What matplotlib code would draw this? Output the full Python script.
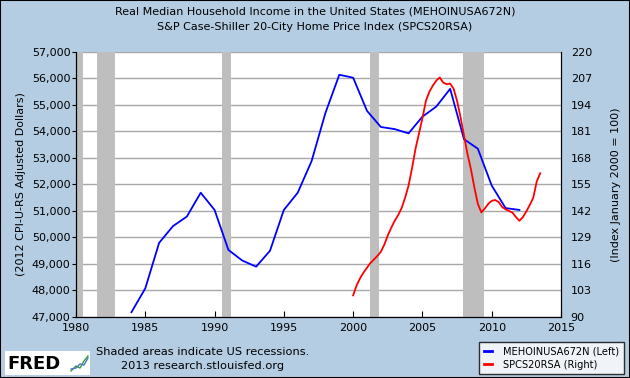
import numpy as np
import matplotlib
matplotlib.use("Agg")
import matplotlib.pyplot as plt
from matplotlib.ticker import FuncFormatter, MultipleLocator
from matplotlib.patches import Rectangle

# Real median household income, annual (2012 dollars)
income_years = list(range(1984, 2013))
income = [47180, 48080, 49800, 50430, 50790, 51690, 51040, 49530, 49130, 48900,
          49500, 51040, 51690, 52880, 54700, 56140, 56030, 54780, 54170, 54090,
          53930, 54560, 54940, 55610, 53710, 53350, 51960, 51110, 51040]

# Case-Shiller 20-city index, quarterly readings (index Jan 2000 = 100)
hpi_years = [2000.0, 2000.25, 2000.5, 2000.75, 2001.0, 2001.25, 2001.5, 2001.75,
             2002.0, 2002.25, 2002.5, 2002.75, 2003.0, 2003.25, 2003.5, 2003.75,
             2004.0, 2004.25, 2004.5, 2004.75, 2005.0, 2005.25, 2005.5, 2005.75,
             2006.0, 2006.25, 2006.5, 2006.75, 2007.0, 2007.25, 2007.5, 2007.75,
             2008.0, 2008.25, 2008.5, 2008.75, 2009.0, 2009.25, 2009.5, 2009.75,
             2010.0, 2010.25, 2010.5, 2010.75, 2011.0, 2011.25, 2011.5, 2011.75,
             2012.0, 2012.25, 2012.5, 2012.75, 2013.0, 2013.25, 2013.5]
hpi = [100.6, 105.5, 109.0, 111.8, 114.2, 116.5, 118.2, 120.0,
       122.0, 125.5, 130.0, 133.8, 137.2, 140.0, 143.5, 148.5,
       154.5, 163.0, 172.5, 180.0, 187.5, 196.0, 200.5, 203.5,
       206.0, 207.5, 205.0, 204.2, 204.5, 202.0, 196.0, 188.0,
       179.0, 170.0, 162.5, 153.5, 145.5, 141.3, 143.2, 145.5,
       147.0, 147.4, 146.4, 144.0, 142.8, 142.0, 141.2, 139.0,
       137.2, 139.0, 141.8, 145.0, 148.5, 156.5, 160.5]

right_ticks = [90, 103, 116, 129, 142, 155, 168, 181, 194, 207, 220]

# US recessions (start, end) in decimal years
recessions = [(1980.0, 1980.5), (1981.5, 1982.85), (1990.5, 1991.2),
              (2001.2, 2001.88), (2007.92, 2009.45)]

bg = "#b5cde3"
fig = plt.figure(figsize=(6.3, 3.78), dpi=100, facecolor=bg)
fig.patches.append(Rectangle((0, 0), 1, 1, transform=fig.transFigure,
                             fill=False, edgecolor="black", lw=1.5))

ax = fig.add_axes([76 / 630, 61 / 378, 485 / 630, 265 / 378])
ax.set_facecolor("white")
for a, b in recessions:
    ax.axvspan(a, b, color="#bebebe", lw=0, zorder=1)
ax.set_axisbelow(True)
ax.grid(axis="y", color="#a8a8a8", lw=1)

ax.plot(income_years, income, color="#0000ff", lw=1.3, zorder=3)
ax.set_xlim(1980, 2015)
ax.set_ylim(47000, 57000)
ax.xaxis.set_major_locator(MultipleLocator(5))
ax.yaxis.set_major_locator(MultipleLocator(1000))
ax.yaxis.set_major_formatter(FuncFormatter(lambda v, p: "{:,.0f}".format(v)))
ax.tick_params(axis="y", direction="out", length=3, labelsize=8, pad=1)
ax.tick_params(axis="x", direction="in", length=4, labelsize=8, pad=4)
ax.set_ylabel("(2012 CPI-U-RS Adjusted Dollars)", fontsize=8, labelpad=4)
ax.spines["top"].set_visible(False)

ax2 = ax.twinx()
ax2.plot(hpi_years, hpi, color="#ff0000", lw=1.3, zorder=3)
ax2.set_ylim(90, 220)
ax2.set_yticks(right_ticks)
ax2.tick_params(axis="y", direction="in", length=0, labelsize=8, pad=7)
ax2.set_ylabel("(Index January 2000 = 100)", fontsize=8, rotation=90, labelpad=14)
ax2.spines["top"].set_visible(False)

fig.text(0.5, 1 - 12 / 378, "Real Median Household Income in the United States (MEHOINUSA672N)",
         ha="center", va="center", fontsize=8)
fig.text(0.5, 1 - 27 / 378, "S&P Case-Shiller 20-City Home Price Index (SPCS20RSA)",
         ha="center", va="center", fontsize=8)

fig.text(203 / 630, 1 - 352 / 378, "Shaded areas indicate US recessions.",
         ha="center", va="center", fontsize=8.2)
fig.text(203 / 630, 1 - 366 / 378, "2013 research.stlouisfed.org",
         ha="center", va="center", fontsize=8.2)

# FRED logo
logo = fig.add_axes([5 / 630, 3 / 378, 85 / 630, 24 / 378])
logo.set_facecolor("white")
logo.set_xlim(0, 85)
logo.set_ylim(0, 24)
logo.set_xticks([])
logo.set_yticks([])
for s in logo.spines.values():
    s.set_visible(False)
logo.text(2, 11, "FRED", fontsize=13, fontweight="heavy", va="center", ha="left")
logo.plot([66, 71, 75, 79, 83], [4, 9, 7, 14, 19], color="#3a9a3a", lw=1)
logo.plot([66, 71, 75, 79, 83], [6, 7, 11, 10, 17], color="#4a78c8", lw=1)

# legend
handles = [plt.Line2D([], [], color="#0000ff", lw=2),
           plt.Line2D([], [], color="#ff0000", lw=2)]
leg = fig.legend(handles, ["MEHOINUSA672N (Left)", "SPCS20RSA (Right)"],
                 loc="lower right", bbox_to_anchor=(624 / 630, 4 / 378),
                 fontsize=7.1, frameon=True, fancybox=False, handlelength=0.8,
                 handletextpad=1.2, borderpad=0.45, labelspacing=0.3, borderaxespad=0)
leg.get_frame().set_edgecolor("black")
leg.get_frame().set_linewidth(1)
leg.get_frame().set_facecolor("white")

fig.savefig("out.png", dpi=100, facecolor=bg)
